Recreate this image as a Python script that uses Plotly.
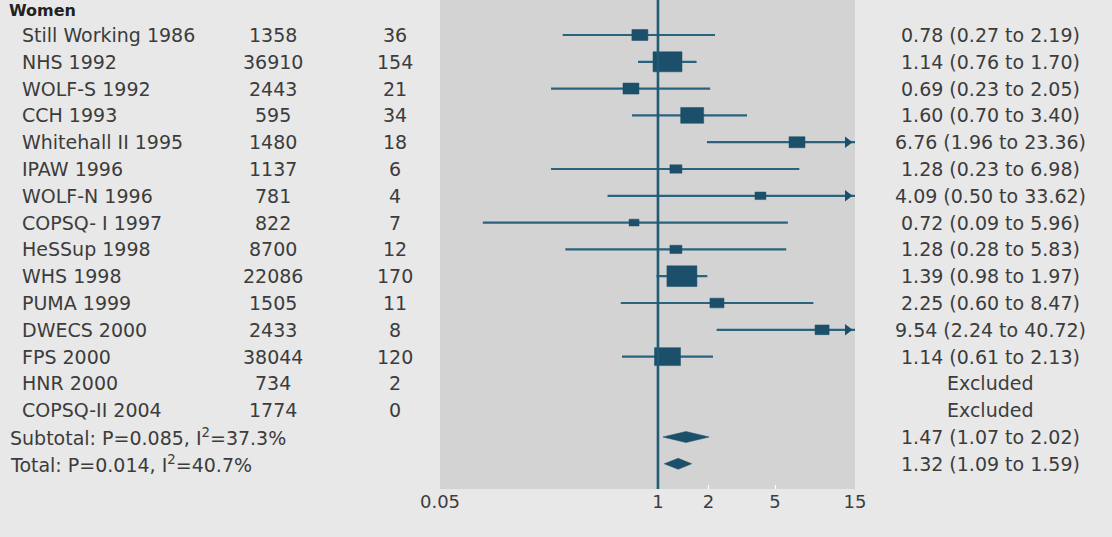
import numpy as np
import plotly.graph_objects as go

# ---------------- data ----------------
studies = ["Still Working 1986", "NHS 1992", "WOLF-S 1992", "CCH 1993", "Whitehall II 1995",
           "IPAW 1996", "WOLF-N 1996", "COPSQ- I 1997", "HeSSup 1998", "WHS 1998",
           "PUMA 1999", "DWECS 2000", "FPS 2000", "HNR 2000", "COPSQ-II 2004"]
n_total = [1358, 36910, 2443, 595, 1480, 1137, 781, 822, 8700, 22086, 1505, 2433, 38044, 734, 1774]
n_events = [36, 154, 21, 34, 18, 6, 4, 7, 12, 170, 11, 8, 120, 2, 0]
hr = [0.78, 1.14, 0.69, 1.60, 6.76, 1.28, 4.09, 0.72, 1.28, 1.39, 2.25, 9.54, 1.14, None, None]
ci_low = [0.27, 0.76, 0.23, 0.70, 1.96, 0.23, 0.50, 0.09, 0.28, 0.98, 0.60, 2.24, 0.61, None, None]
ci_high = [2.19, 1.70, 2.05, 3.40, 23.36, 6.98, 33.62, 5.96, 5.83, 1.97, 8.47, 40.72, 2.13, None, None]
weights = [6.2, 20.4, 6.2, 12.8, 6.2, 3.5, 2.9, 2.4, 3.5, 21.8, 4.8, 4.8, 16.4, None, None]

pooled_labels = ["Subtotal: P=0.085, I<sup>2</sup>=37.3%", "Total: P=0.014, I<sup>2</sup>=40.7%"]
pooled_hr = [1.47, 1.32]
pooled_low = [1.07, 1.09]
pooled_high = [2.02, 1.59]

group_label = "Women"
tick_vals = [0.05, 1, 2, 5, 15]
tick_text = ["0.05", "1", "2", "5", "15"]
x_min, x_max = 0.05, 15
null_value = 1

# ---------------- styling / geometry ----------------
W, H = 1112, 537
ML, MR, MT, MB = 440, 257, 0, 48
plot_w = W - ML - MR
plot_h = H - MT - MB
row_px = 26.8
first_row_px = 35
ppd = plot_w / (np.log10(x_max) - np.log10(x_min))   # pixels per decade

y_top = -first_row_px / row_px
y_bot = (plot_h - first_row_px) / row_px

mark_col = "#1b4f6a"
line_col = "#2a6380"
text_col = "#3c3c3c"
font = "DejaVu Sans"
fs = 19

fig = go.Figure()

# CI lines
lx, ly = [], []
arrow_x, arrow_y = [], []
for i, (lo, hi) in enumerate(zip(ci_low, ci_high)):
    if lo is None:
        continue
    lx += [max(lo, x_min), min(hi, x_max), None]
    ly += [i, i, None]
    if hi > x_max:
        arrow_x.append(x_max * 10 ** (-7.5 / ppd))
        arrow_y.append(i)
fig.add_trace(go.Scatter(x=lx, y=ly, mode="lines", line=dict(color=line_col, width=2.2),
                         hoverinfo="skip", showlegend=False, cliponaxis=False))
fig.add_trace(go.Scatter(x=arrow_x, y=arrow_y, mode="markers",
                         marker=dict(symbol="triangle-right", size=10, color=mark_col,
                                     line=dict(width=0)),
                         hoverinfo="skip", showlegend=False))

# boxes
bx, by = [], []
k = 6.42
for i, (est, w) in enumerate(zip(hr, weights)):
    if est is None:
        continue
    wpx = k * np.sqrt(w)
    hpx = wpx / 1.45
    dx = 10 ** (wpx / 2 / ppd)
    dy = hpx / 2 / row_px
    bx += [est / dx, est * dx, est * dx, est / dx, est / dx, None]
    by += [i - dy, i - dy, i + dy, i + dy, i - dy, None]
fig.add_trace(go.Scatter(x=bx, y=by, mode="lines", fill="toself", fillcolor=mark_col,
                         line=dict(color=mark_col, width=0.5), hoverinfo="skip", showlegend=False))

# diamonds
dxs, dys = [], []
dh = 5.5 / row_px
for j, (est, lo, hi) in enumerate(zip(pooled_hr, pooled_low, pooled_high)):
    yy = len(studies) + j
    dxs += [lo, est, hi, est, lo, None]
    dys += [yy, yy - dh, yy, yy + dh, yy, None]
fig.add_trace(go.Scatter(x=dxs, y=dys, mode="lines", fill="toself", fillcolor=mark_col,
                         line=dict(color=mark_col, width=0.5), hoverinfo="skip", showlegend=False))

# text columns
def px2paper(px):
    return (px - ML) / plot_w

ann = []
def add_text(px, y, txt, anchor="left"):
    ann.append(dict(x=px2paper(px), y=y, xref="paper", yref="y", text=txt, showarrow=False,
                    xanchor=anchor, yanchor="middle",
                    font=dict(family=font, size=fs, color=text_col)))

ann.append(dict(x=px2paper(8), y=1, xref="paper", yref="paper", text=group_label, showarrow=False,
                xanchor="left", yanchor="top", borderpad=0,
                font=dict(family=font, size=16, color="#222222", weight="bold")))
for i, s in enumerate(studies):
    add_text(20, i, s)
    add_text(273, i, str(n_total[i]), anchor="center")
    add_text(395, i, str(n_events[i]), anchor="center")
    if hr[i] is None:
        res = "Excluded"
    else:
        res = f"{hr[i]:.2f} ({ci_low[i]:.2f} to {ci_high[i]:.2f})"
    add_text(990, i, res, anchor="center")
for j, lab in enumerate(pooled_labels):
    yy = len(studies) + j
    add_text(8, yy, lab)
    add_text(990, yy, f"{pooled_hr[j]:.2f} ({pooled_low[j]:.2f} to {pooled_high[j]:.2f})", anchor="center")

fig.update_layout(
    width=W, height=H,
    margin=dict(l=ML, r=MR, t=MT, b=MB),
    paper_bgcolor="#e8e8e8", plot_bgcolor="#d3d3d3",
    annotations=ann,
    shapes=[dict(type="line", xref="x", yref="paper", x0=null_value, x1=null_value, y0=0, y1=1,
                 line=dict(color="#215a75", width=2.6), layer="above")],
    showlegend=False,
)
fig.update_xaxes(type="log", range=[np.log10(x_min), np.log10(x_max)],
                 tickvals=tick_vals, ticktext=tick_text, showgrid=False, zeroline=False,
                 ticks="inside", ticklen=4, tickcolor="white", tickwidth=1,
                 tickfont=dict(family=font, size=18, color=text_col), showline=False)
fig.update_yaxes(range=[y_bot, y_top], showticklabels=False, showgrid=False,
                 zeroline=False, ticks="", showline=False)

fig.write_html("out.html", config={"displayModeBar": False},
               post_script="document.body.style.margin='0';document.body.style.padding='0';"
                           "document.body.style.background='#e8e8e8';")
